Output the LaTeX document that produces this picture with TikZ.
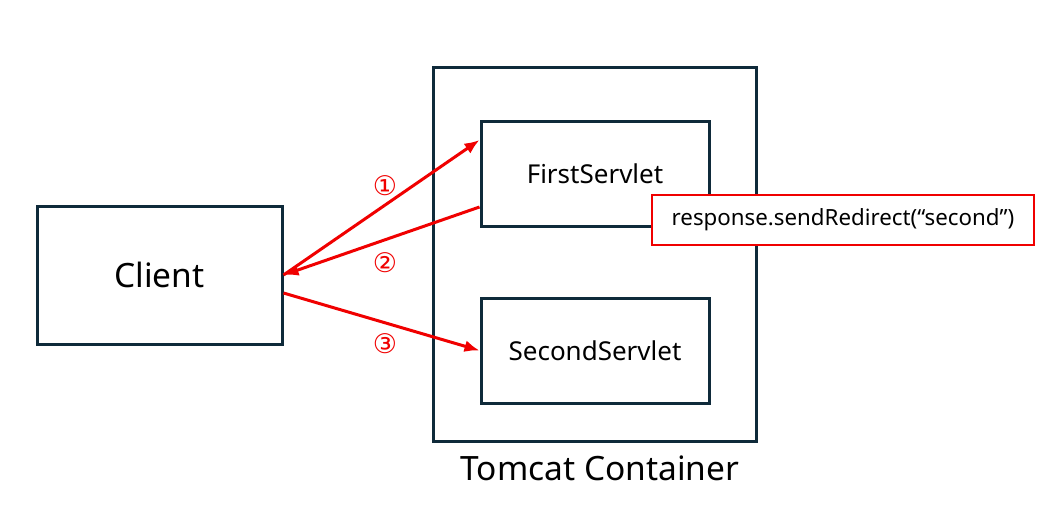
\documentclass[tikz,border=0pt]{standalone}
\usepackage{fontspec}
\setmainfont{Noto Sans}
\newfontfamily\circfont{DejaVu Sans}
\usetikzlibrary{arrows.meta}
\definecolor{boxline}{HTML}{0F2A3A}
\definecolor{arrowred}{HTML}{F00000}
\tikzset{
  box/.style={draw=boxline,line width=3pt,rectangle,inner sep=0pt},
  req/.style={-{Latex[length=15pt,width=12pt]},line width=3pt,color=arrowred},
  num/.style={color=arrowred,font=\circfont\fontsize{27}{27}\selectfont}
}
\begin{document}
\begin{tikzpicture}[x=1pt,y=-1pt]
  \useasboundingbox (0,0) rectangle (1057,504);
  % boxes
  \node[box,minimum width=245,minimum height=138,font=\fontsize{33.5}{33.5}\selectfont] (client) at (159.5,275) {Client};
  \node[box,minimum width=323,minimum height=374] (tomcat) at (594.5,254) {};
  \node[font=\fontsize{33.5}{33.5}\selectfont] (tomcatlabel) at (600,468) {Tomcat Container};
  \node[box,minimum width=228,minimum height=105,font=\fontsize{26}{26}\selectfont] (first) at (595,173.5) {FirstServlet};
  \node[box,minimum width=228,minimum height=105,font=\fontsize{26}{26}\selectfont] (second) at (595,350.5) {SecondServlet};
  \node[draw=arrowred,line width=2pt,fill=white,minimum width=382,minimum height=50,font=\fontsize{22.3}{22.3}\selectfont] (redirect) at (843,220) {response.sendRedirect(“second”)};

  % requests
  \draw[req] (client.east) -- ([yshift=33.5pt]first.west);
  \draw[req] ([yshift=-33.5pt]first.west) -- (client.east);
  \draw[req] ([yshift=-18pt]client.east) -- (second.west);
  \node[num] (n1) at (385,186) {①};
  \node[num] (n2) at (385,263) {②};
  \node[num] (n3) at (385,344) {③};
\end{tikzpicture}
\end{document}
